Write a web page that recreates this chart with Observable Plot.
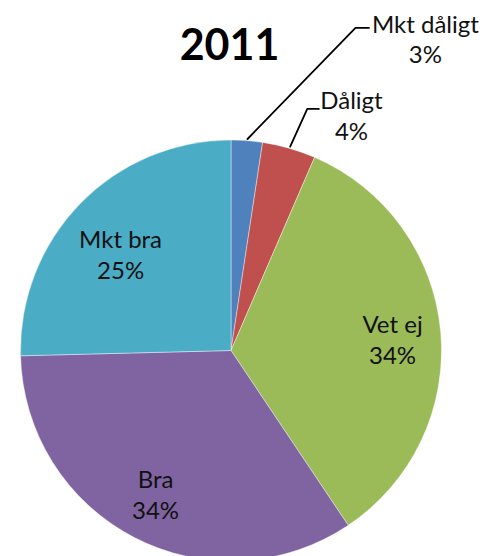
<!DOCTYPE html>
<html>
<head>
<meta charset="utf-8">
<script src="https://cdn.jsdelivr.net/npm/d3@7"></script>
<script src="https://cdn.jsdelivr.net/npm/@observablehq/plot@0.6"></script>
<style>
  html, body { margin: 0; padding: 0; background: #fff; }
  svg { display: block; }
</style>
</head>
<body>
<div id="chart"></div>
<script>
// ---- data ----
const title = "2011";
const categories = ["Mkt dåligt", "Dåligt", "Vet ej", "Bra", "Mkt bra"];
const values = [2.4, 4.1, 34.1, 34.0, 25.4];
const percentLabels = ["3%", "4%", "34%", "34%", "25%"];
const colors = ["#4F81BD", "#C0504D", "#9BBB59", "#8064A2", "#4BACC6"];

// ---- layout (pie units, origin = pie centre, 1 = radius) ----
const W = 485, H = 556;
const cx = 231, cy = 350.5, R = 210.5;
const labelPos = [[0.921, -1.486], [0.570, -1.122], [0.765, -0.058], [-0.361, 0.678], [-0.527, -0.462]];
const leaderElbow = [[0.589, -1.535], [0.360, -1.150]];
const leaderEnd = [[0.653, -1.535], [0.415, -1.150]];
const fontFamily = "Lato, 'Open Sans', sans-serif";

const data = categories.map((c, i) => ({category: c, value: values[i], pct: percentLabels[i]}));
const arcs = d3.pie().sort(null).value(d => d.value)(data);
const color = Plot.scale({color: {type: "ordinal", domain: categories, range: colors}});

const labels = data.map((d, i) => ({text: d.category + "\n" + d.pct, x: labelPos[i][0], y: labelPos[i][1]}));
const leaders = [];
[0, 1].forEach(i => {
  const a = (arcs[i].startAngle + arcs[i].endAngle) / 2;
  const r = 1.01;
  leaders.push({k: i, x: r * Math.sin(a), y: -r * Math.cos(a)});
  leaders.push({k: i, x: leaderElbow[i][0], y: leaderElbow[i][1]});
  leaders.push({k: i, x: leaderEnd[i][0], y: leaderEnd[i][1]});
});

function pieMark(index, scales) {
  const x0 = scales.x(0), y0 = scales.y(0);
  const rad = scales.x(1) - scales.x(0);
  const arcGen = d3.arc().innerRadius(0).outerRadius(rad);
  const g = d3.create("svg:g").attr("transform", `translate(${x0},${y0})`);
  g.selectAll("path").data(arcs).join("path")
    .attr("d", arcGen)
    .attr("fill", d => color.apply(d.data.category))
    .attr("stroke", "#ffffff")
    .attr("stroke-opacity", 0.5)
    .attr("stroke-width", 0.8);
  return g.node();
}

const chart = Plot.plot({
  width: W,
  height: H,
  margin: 0,
  style: {background: "#fff", fontFamily},
  x: {domain: [-cx / R, (W - cx) / R], range: [0, W], axis: null},
  y: {domain: [-cy / R, (H - cy) / R], range: [0, H], axis: null},
  marks: [
    pieMark,
    Plot.line(leaders, {x: "x", y: "y", z: "k", stroke: "#000", strokeWidth: 1.8, curve: "linear"}),
    Plot.text(labels, {x: "x", y: "y", text: "text", fontSize: 24, lineHeight: 1.27, fill: "#111", textAnchor: "middle", fontFamily}),
    Plot.text([title], {x: [(229 - cx) / R], y: [(45.5 - cy) / R], text: d => d, fontSize: 43, fontWeight: "bold", fill: "#000", textAnchor: "middle", fontFamily})
  ]
});
document.getElementById("chart").appendChild(chart);
</script>
</body>
</html>
